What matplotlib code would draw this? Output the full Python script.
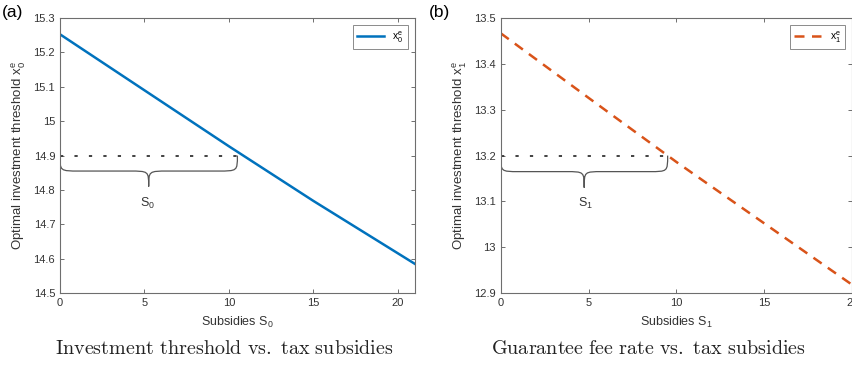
import numpy as np
import matplotlib
matplotlib.use("Agg")
import matplotlib.pyplot as plt
from matplotlib.path import Path
from matplotlib.patches import PathPatch

plt.rcParams['font.family'] = ['Liberation Sans', 'DejaVu Sans']
plt.rcParams['mathtext.fontset'] = 'custom'
plt.rcParams['mathtext.rm'] = 'Liberation Sans'
plt.rcParams['mathtext.it'] = 'Liberation Sans'
plt.rcParams['mathtext.default'] = 'rm'

# panel (a): investment threshold vs subsidies S0
s0 = [0, 5, 10, 15, 21]
x0e = [15.253, 15.090, 14.927, 14.768, 14.585]
level_a = 14.9
span_a = 10.5

# panel (b): threshold vs subsidies S1
s1 = [0, 5, 10, 15, 20]
x1e = [13.467, 13.326, 13.186, 13.052, 12.918]
level_b = 13.2
span_b = 9.5

axis_col = '#6e6e6e'
txt_col = '#333333'


def brace(ax, x0, x1, y, depth, color='#555555'):
    # curly brace hanging below y, from x0 to x1
    w = x1 - x0
    xm = (x0 + x1) / 2.0
    r = 0.11 * w
    ym = y - depth * 0.5
    yt = y - depth
    verts = [(x0, y), (x0, ym), (x0, ym), (x0 + r, ym),
             (xm - r, ym),
             (xm, ym), (xm, ym), (xm, yt),
             (xm, ym), (xm, ym), (xm + r, ym),
             (x1 - r, ym),
             (x1, ym), (x1, ym), (x1, y)]
    codes = [Path.MOVETO, Path.CURVE4, Path.CURVE4, Path.CURVE4,
             Path.LINETO,
             Path.CURVE4, Path.CURVE4, Path.CURVE4,
             Path.CURVE4, Path.CURVE4, Path.CURVE4,
             Path.LINETO,
             Path.CURVE4, Path.CURVE4, Path.CURVE4]
    ax.add_patch(PathPatch(Path(verts, codes), fill=False, lw=0.9, ec=color))


def style(ax):
    for sp in ax.spines.values():
        sp.set_color(axis_col)
        sp.set_linewidth(0.8)
    ax.tick_params(direction='in', top=True, right=True, length=3,
                   color=axis_col, labelsize=8, labelcolor=txt_col, width=0.7)


fig = plt.figure(figsize=(8.53, 3.70), dpi=100)

ax1 = fig.add_axes([0.0703, 0.208, 0.416, 0.743])
ax1.plot(s0, x0e, color='#0072BD', lw=1.8, label='$x_0^e$')
ax1.plot([0, span_a], [level_a, level_a], color='#333333', lw=1.3,
         linestyle=(0, (1.8, 6.2)))
brace(ax1, 0, span_a, level_a, 0.09)
ax1.text(5.2, 14.76, '$S_0$', ha='center', va='center', fontsize=9, color=txt_col)
ax1.set_xlim(0, 21)
ax1.set_ylim(14.5, 15.3)
ax1.set_xticks([0, 5, 10, 15, 20])
ax1.set_yticks([14.5, 14.6, 14.7, 14.8, 14.9, 15.0, 15.1, 15.2, 15.3])
ax1.set_yticklabels(['14.5', '14.6', '14.7', '14.8', '14.9', '15', '15.1', '15.2', '15.3'])
ax1.set_xlabel('Subsidies $S_0$', fontsize=9, color=txt_col, labelpad=5)
ax1.set_ylabel('Optimal investment threshold $x_0^e$', fontsize=9.5, color=txt_col)
style(ax1)
leg = ax1.legend(loc='upper right', fontsize=7.5, handlelength=2.6,
                 fancybox=False, edgecolor=axis_col, borderaxespad=0.7)
leg.get_frame().set_linewidth(0.7)

ax2 = fig.add_axes([0.587, 0.208, 0.412, 0.743])
ax2.plot(s1, x1e, color='#D95319', lw=1.8, linestyle=(0, (4, 3)), label='$x_1^e$')
ax2.plot([0, span_b], [level_b, level_b], color='#333333', lw=1.3,
         linestyle=(0, (1.8, 6.2)))
brace(ax2, 0, span_b, level_b, 0.07)
ax2.text(4.8, 13.095, '$S_1$', ha='center', va='center', fontsize=9, color=txt_col)
ax2.set_xlim(0, 20)
ax2.set_ylim(12.9, 13.5)
ax2.set_xticks([0, 5, 10, 15, 20])
ax2.set_yticks([12.9, 13.0, 13.1, 13.2, 13.3, 13.4, 13.5])
ax2.set_yticklabels(['12.9', '13', '13.1', '13.2', '13.3', '13.4', '13.5'])
ax2.set_xlabel('Subsidies $S_1$', fontsize=9, color=txt_col, labelpad=5)
ax2.set_ylabel('Optimal investment threshold $x_1^e$', fontsize=9.5, color=txt_col)
style(ax2)
leg = ax2.legend(loc='upper right', fontsize=7.5, handlelength=2.6,
                 fancybox=False, edgecolor=axis_col, borderaxespad=0.7)
leg.get_frame().set_linewidth(0.7)

fig.text(0.002, 0.965, '(a)', fontsize=12.5, ha='left', va='center')
fig.text(0.503, 0.965, '(b)', fontsize=12.5, ha='left', va='center')

fig.text(0.263, 0.057, r'$\mathrm{Investment\ threshold\ vs.\ tax\ subsidies}$',
         math_fontfamily='cm', fontsize=14.5, ha='center', va='center', color='#222222')
fig.text(0.760, 0.057, r'$\mathrm{Guarantee\ fee\ rate\ vs.\ tax\ subsidies}$',
         math_fontfamily='cm', fontsize=14.5, ha='center', va='center', color='#222222')

fig.savefig('out.png', dpi=100)
